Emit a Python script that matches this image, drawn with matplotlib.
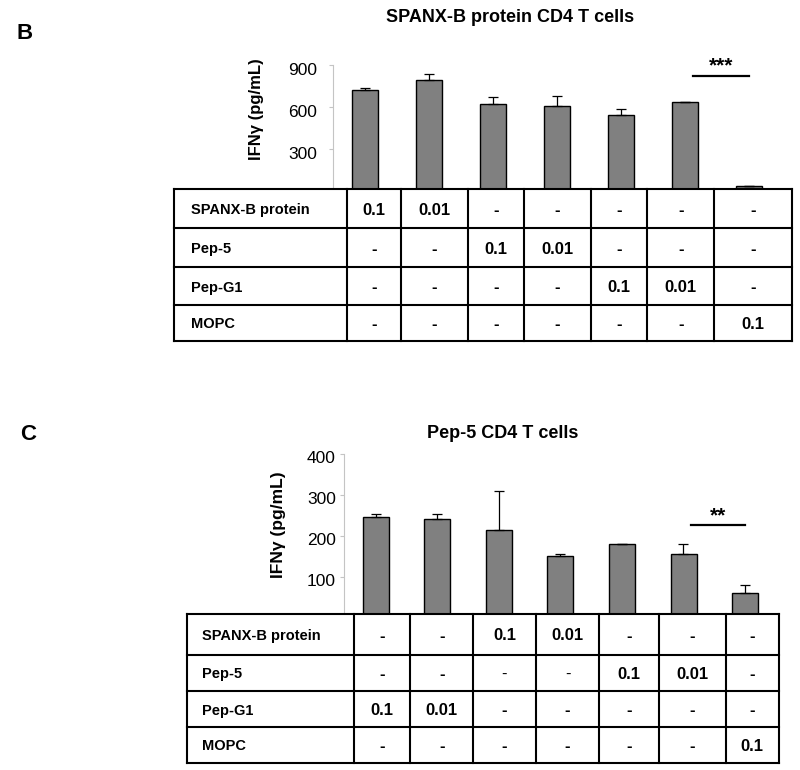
import matplotlib
matplotlib.use('Agg')  # no display in the sandbox
import matplotlib.pyplot as plt
from matplotlib.transforms import ScaledTranslation
import numpy as np

plt.rcParams['font.family'] = ['Liberation Sans', 'DejaVu Sans']

# IFNg (pg/mL), panel B: SPANX-B protein CD4 T cells
b_ifng = [720, 790, 620, 606, 539, 632, 30]
b_err = [17, 45, 48, 69, 43, 5, 0]
b_sig_y = 821

# IFNg (pg/mL), panel C: Pep-5 CD4 T cells
c_ifng = [246, 242, 215, 151, 179, 156, 60]
c_err = [8, 12, 95, 5, 1, 24, 19]
c_sig_y = 226

row_labels = ['SPANX-B protein', 'Pep-5', 'Pep-G1', 'MOPC']
b_cells = [
    ['0.1', '0.01', '-', '-', '-', '-', '-'],
    ['-', '-', '0.1', '0.01', '-', '-', '-'],
    ['-', '-', '-', '-', '0.1', '0.01', '-'],
    ['-', '-', '-', '-', '-', '-', '0.1'],
]
c_cells = [
    ['-', '-', '0.1', '0.01', '-', '-', '-'],
    ['-', '-', '-', '-', '0.1', '0.01', '-'],
    ['0.1', '0.01', '-', '-', '-', '-', '-'],
    ['-', '-', '-', '-', '-', '-', '0.1'],
]
c_thin = {(1, 2), (1, 3)}  # the two plain dashes in the Pep-5 row

W, H = 800, 770
fig = plt.figure(figsize=(8, 7.7), dpi=100)

# overlay in pixel coords for the tables and loose text
ov = fig.add_axes([0, 0, 1, 1], zorder=5)
ov.set_xlim(0, W)
ov.set_ylim(H, 0)
ov.axis('off')
ov.patch.set_alpha(0)


def px_axes(x0, y0, x1, y1):
    return fig.add_axes([x0 / W, 1 - y1 / H, (x1 - x0) / W, (y1 - y0) / H])


def draw_panel(box, first, step, vals, errs, ymax, yticks, sig_y, stars,
               lab_pad, lab_shift):
    left, top, right, bottom = box
    ax = px_axes(left, top, right, bottom)
    x = np.arange(len(vals))
    ax.bar(x, vals, width=26 / step, color='#808080', edgecolor='black',
           linewidth=1.0, zorder=2)
    ax.errorbar(x, vals, yerr=[np.zeros(len(errs)), errs], fmt='none',
                ecolor='black', elinewidth=0.9, capsize=3.5, capthick=0.9, zorder=3)
    ax.set_xlim((left - first) / step, (right - first) / step)
    ax.set_ylim(0, ymax)
    ax.set_yticks(yticks)
    ax.set_xticks([])
    for s in ['top', 'right', 'bottom']:
        ax.spines[s].set_visible(False)
    ax.spines['left'].set_color('#c4c4c4')
    ax.spines['left'].set_linewidth(0.8)
    ax.tick_params(axis='y', length=3, color='#c4c4c4', labelsize=12.5, pad=lab_pad)
    for t in ax.yaxis.get_major_ticks():
        t.label1.set_transform(t.label1.get_transform()
                               + ScaledTranslation(0, -lab_shift / 100, fig.dpi_scale_trans))

    # significance bar between the last two groups
    x0, x1 = x[-2] + 0.12, x[-1]
    ax.plot([x0, x1], [sig_y, sig_y], color='black', lw=1.6, clip_on=False)
    ax.annotate(stars, ((x0 + x1) / 2, sig_y), xytext=(0, 3), textcoords='offset points',
                ha='center', va='baseline', fontsize=15, fontweight='bold',
                annotation_clip=False)
    return ax


def draw_table(cols, rows, cells, lab_x, thin=()):
    ov.add_patch(plt.Rectangle((cols[0], rows[0]), cols[-1] - cols[0], rows[-1] - rows[0],
                               facecolor='white', edgecolor='none', zorder=1))
    for yy in rows:
        ov.plot([cols[0], cols[-1]], [yy, yy], color='black', lw=1.5, zorder=2,
                solid_capstyle='projecting')
    for xx in cols:
        ov.plot([xx, xx], [rows[0], rows[-1]], color='black', lw=1.5, zorder=2,
                solid_capstyle='projecting')
    for i, lab in enumerate(row_labels):
        yc = (rows[i] + rows[i + 1]) / 2 + 1.5
        ov.text(lab_x, yc, lab, ha='left', va='center', fontsize=10.5,
                fontweight='bold', zorder=3)
        for j, val in enumerate(cells[i]):
            xc = (cols[j + 1] + cols[j + 2]) / 2
            ov.text(xc, yc, val, ha='center', va='center', fontsize=12,
                    fontweight='normal' if (i, j) in thin else 'bold', zorder=3)


# panel B
draw_panel((332.7, 65, 792.3, 190.5), 365.3, 63.95, b_ifng, b_err, 900,
           [300, 600, 900], b_sig_y, '***', 8, 4)
draw_table([174, 346.7, 400.7, 467.7, 524, 591, 647.3, 714.3, 792.3],
           [189, 228.3, 267.3, 305, 341], b_cells, 190.7)
ov.text(16, 33.5, 'B', fontsize=16, fontweight='bold', ha='left', va='center')
ov.text(510, 17, 'SPANX-B protein CD4 T cells', fontsize=13, fontweight='bold',
        ha='center', va='center')
ov.text(256, 109, 'IFNγ (pg/mL)', fontsize=12, fontweight='bold', rotation=90,
        ha='center', va='center')

# panel C
draw_panel((344.3, 454, 779, 617.6), 375.5, 61.6, c_ifng, c_err, 400,
           [100, 200, 300, 400], c_sig_y, '**', 3, 3)
draw_table([187, 354, 410, 473.3, 535.7, 599.3, 658.7, 725.7, 779],
           [614, 655, 690.7, 727.3, 762.7], c_cells, 201.7, c_thin)
ov.text(20, 435, 'C', fontsize=16, fontweight='bold', ha='left', va='center')
ov.text(503, 433, 'Pep-5 CD4 T cells', fontsize=13, fontweight='bold',
        ha='center', va='center')
ov.text(278, 525, 'IFNγ (pg/mL)', fontsize=12.5, fontweight='bold', rotation=90,
        ha='center', va='center')

fig.savefig('out.png', dpi=100)
